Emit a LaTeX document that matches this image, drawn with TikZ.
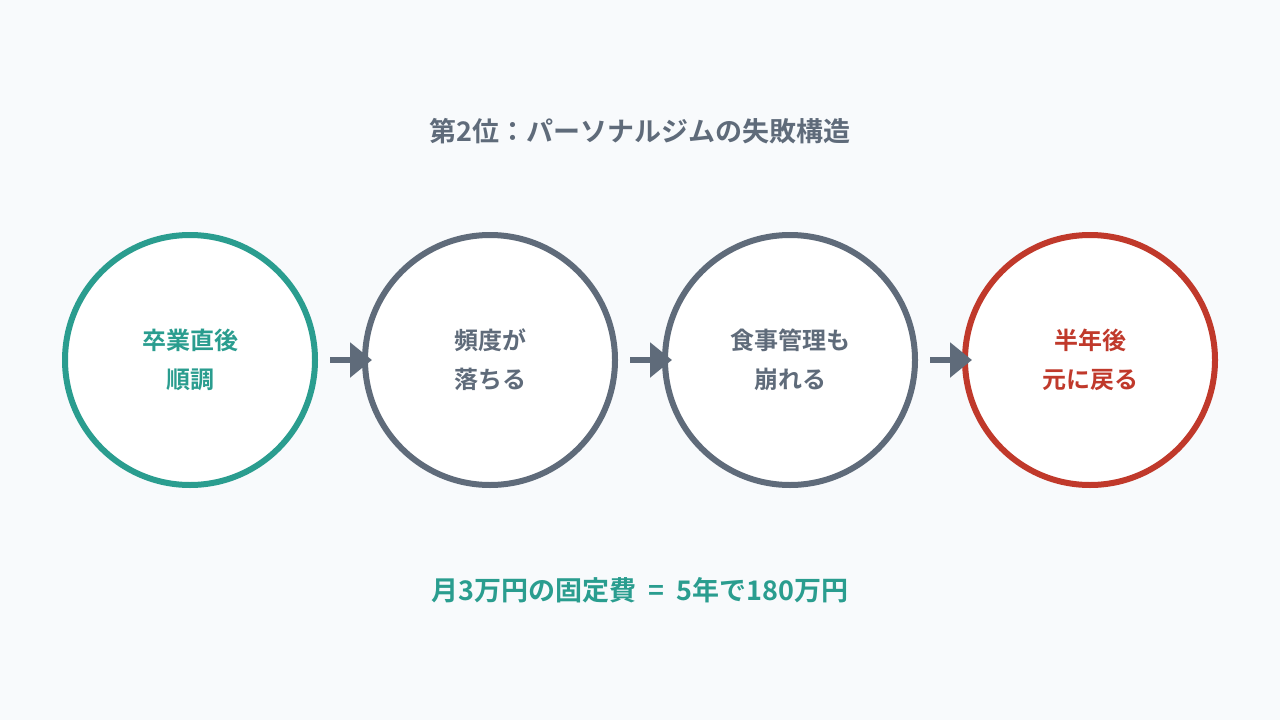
\documentclass[tikz,border=0pt]{standalone}
\usepackage{fontspec}
\setmainfont{Noto Sans CJK JP}[BoldFont={* Bold}]
\usetikzlibrary{arrows.meta}
\definecolor{bg}{HTML}{F8FAFC}
\definecolor{teal}{HTML}{2A9D8F}
\definecolor{slate}{HTML}{5F6B7A}
\definecolor{redc}{HTML}{C0392B}
\tikzset{
  x=1pt, y=-1pt,
  stage/.style={circle, draw=#1, line width=6pt, minimum size=250pt, inner sep=0pt,
    text=#1, font=\fontsize{24}{39}\selectfont\bfseries, align=center, fill=white},
  flow/.style={draw=slate, line width=6pt, -{Triangle[length=22pt,width=34pt]}},
}
\begin{document}
\begin{tikzpicture}
\useasboundingbox (0,0) rectangle (1280,720);
\fill[bg] (0,0) rectangle (1280,720);
\node[text=slate, font=\fontsize{27}{30}\selectfont\bfseries] (title) at (640,131) {第2位：パーソナルジムの失敗構造};
\node[stage=teal] (s1) at (190,360) {卒業直後\\順調};
\node[stage=slate] (s2) at (490,360) {頻度が\\落ちる};
\node[stage=slate] (s3) at (790,360) {食事管理も\\崩れる};
\node[stage=redc] (s4) at (1090,360) {半年後\\元に戻る};
\coordinate (a1s) at (330,360); \coordinate (a1e) at (372,360);
\coordinate (a2s) at (630,360); \coordinate (a2e) at (672,360);
\coordinate (a3s) at (930,360); \coordinate (a3e) at (972,360);
\draw[flow] (a1s) -- (a1e);
\draw[flow] (a2s) -- (a2e);
\draw[flow] (a3s) -- (a3e);
\node[text=teal, font=\fontsize{27}{30}\selectfont\bfseries] (note) at (640,590) {月3万円の固定費\hspace{0.45em}=\hspace{0.45em}5年で180万円};
\end{tikzpicture}
\end{document}
